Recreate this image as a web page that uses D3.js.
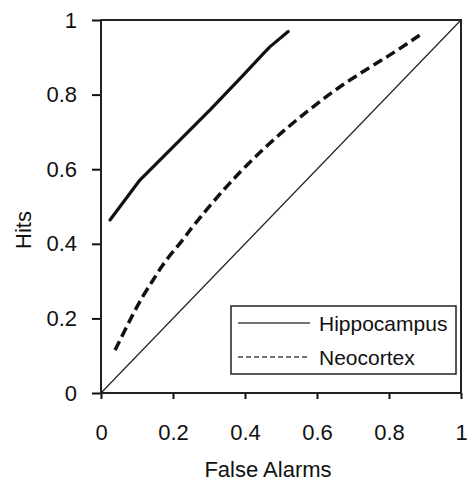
<html>
<head>
<meta charset="utf-8">
<title>Hits vs False Alarms</title>
<style type="text/css">
* { margin: 0; padding: 0; }
body { background: #fff; }
svg text { font-family: "Liberation Sans", Arial, sans-serif; fill: #111; }
.tick text { font-size: 22px; }
.axisTitle { font-size: 22px; }
.legendLabel { font-size: 21px; }
</style>
<script src="https://cdn.jsdelivr.net/npm/d3@7"></script>
<script type="text/javascript">
// values
var tickValues = [0, 0.2, 0.4, 0.6, 0.8, 1];

var hippoFA   = [0.025, 0.108, 0.192, 0.303, 0.386, 0.451, 0.469, 0.520];
var hippoHits = [0.464, 0.571, 0.652, 0.759, 0.843, 0.910, 0.928, 0.969];

var neoFA   = [0.039, 0.067, 0.090, 0.118, 0.145, 0.168, 0.196, 0.224, 0.247, 0.270, 0.354, 0.465, 0.576, 0.687, 0.798, 0.886];
var neoHits = [0.115, 0.169, 0.214, 0.263, 0.303, 0.339, 0.375, 0.406, 0.437, 0.464, 0.562, 0.669, 0.759, 0.839, 0.902, 0.960];

var chanceLine = [0, 1];

var seriesNames = ["Hippocampus", "Neocortex"];

window.onload = function() {
  var W = 467, H = 481;
  var margin = {top: 20, right: 6, bottom: 88, left: 101};
  var w = W - margin.left - margin.right;   // 360
  var h = H - margin.top - margin.bottom;   // 373

  var svg = d3.select("#chart").append("svg")
    .attr("width", W)
    .attr("height", H);

  var g = svg.append("g")
    .attr("transform", "translate(" + margin.left + "," + margin.top + ")");

  var x = d3.scaleLinear().domain([0, 1]).range([0, w]);
  var y = d3.scaleLinear().domain([0, 1]).range([h, 0]);

  var fmt = function(d) { return String(+d.toFixed(1)); };

  var xAxis = g.append("g")
    .attr("transform", "translate(0," + h + ")")
    .call(d3.axisBottom(x).tickValues(tickValues).tickFormat(fmt).tickSize(6).tickPadding(25));
  var yAxis = g.append("g")
    .call(d3.axisLeft(y).tickValues(tickValues).tickFormat(fmt).tickSize(9).tickPadding(15));

  [xAxis, yAxis].forEach(function(a) {
    a.select(".domain").remove();
    a.selectAll(".tick line").attr("stroke", "#111").attr("stroke-width", 2);
    a.selectAll(".tick text").attr("fill", "#111");
  });

  var line = d3.line().x(function(d) { return x(d[0]); }).y(function(d) { return y(d[1]); });

  // chance diagonal
  g.append("path")
    .datum(chanceLine.map(function(v) { return [v, v]; }))
    .attr("d", line)
    .attr("fill", "none")
    .attr("stroke", "#222")
    .attr("stroke-width", 1.2);

  var smooth = d3.line()
    .x(function(d) { return x(d[0]); })
    .y(function(d) { return y(d[1]); })
    .curve(d3.curveBasis);

  g.append("path")
    .datum(d3.zip(neoFA, neoHits))
    .attr("d", smooth)
    .attr("fill", "none")
    .attr("stroke", "#111")
    .attr("stroke-width", 3.5)
    .attr("stroke-dasharray", "10,5");

  g.append("path")
    .datum(d3.zip(hippoFA, hippoHits))
    .attr("d", line)
    .attr("fill", "none")
    .attr("stroke", "#111")
    .attr("stroke-width", 3.2)
    .attr("stroke-linecap", "round")
    .attr("stroke-linejoin", "round");

  // plot frame
  g.append("rect")
    .attr("x", 0).attr("y", 0)
    .attr("width", w).attr("height", h)
    .attr("fill", "none")
    .attr("stroke", "#222")
    .attr("stroke-width", 2);

  // legend
  var leg = g.append("g").attr("transform", "translate(" + (231 - margin.left) + "," + (306 - margin.top) + ")");
  leg.append("rect")
    .attr("width", 225).attr("height", 68)
    .attr("fill", "#fff")
    .attr("stroke", "#222")
    .attr("stroke-width", 1.5);
  seriesNames.forEach(function(name, i) {
    var ly = 17 + i * 34;
    leg.append("line")
      .attr("x1", 7).attr("x2", 79)
      .attr("y1", ly).attr("y2", ly)
      .attr("stroke", "#444")
      .attr("stroke-width", 1.5)
      .attr("stroke-dasharray", i == 0 ? null : "5,3");
    leg.append("text")
      .attr("class", "legendLabel")
      .attr("x", 88)
      .attr("y", ly + 8)
      .text(name);
  });

  // axis titles
  svg.append("text")
    .attr("class", "axisTitle")
    .attr("text-anchor", "middle")
    .attr("x", 268)
    .attr("y", 477)
    .text("False Alarms");

  svg.append("text")
    .attr("class", "axisTitle")
    .attr("text-anchor", "middle")
    .attr("transform", "translate(31,230) rotate(-90)")
    .text("Hits");
};
</script>
</head>
<body>
  <div id="chart"></div>
</body>
</html>
